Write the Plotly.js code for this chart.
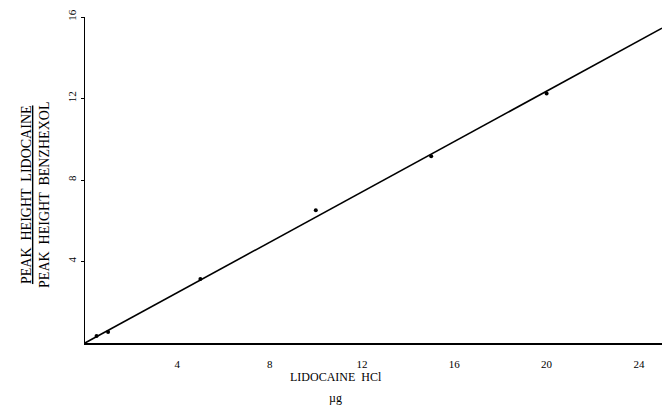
<!DOCTYPE html>
<html>
<head>
<meta charset="utf-8">
<script src="https://cdn.plot.ly/plotly-3.0.1.min.js"></script>
<style>html,body{margin:0;padding:0;background:#fff;}#chart{width:662px;height:411px;}</style>
</head>
<body>
<div id="chart"></div>
<script>
// Lidocaine HCl amount (µg) vs peak height ratio
const amountUg = [0.5, 1, 5, 10, 15, 20];
const peakRatio = [0.34, 0.54, 3.14, 6.52, 9.17, 12.25];
// calibration line end points
const lineX = [0, 25];
const lineY = [0, 15.45];
const xTicks = [4, 8, 12, 16, 20, 24];
const yTicks = [4, 8, 12, 16];

const font = {family: 'Liberation Serif, DejaVu Serif, serif', size: 11, color: '#000'};
const titleFont = {family: 'Liberation Serif, DejaVu Serif, serif', size: 14, color: '#000'};

const traces = [
  {x: lineX, y: lineY, mode: 'lines', line: {color: '#000', width: 1.6}, hoverinfo: 'skip'},
  {x: amountUg, y: peakRatio, mode: 'markers', marker: {color: '#000', size: 4}}
];

const layout = {
  width: 662, height: 411,
  margin: {l: 85, r: 0, t: 17, b: 68},
  paper_bgcolor: '#fff', plot_bgcolor: '#fff',
  showlegend: false,
  font: font,
  xaxis: {
    range: [0, 25], tickvals: xTicks, ticktext: xTicks.map(String),
    showgrid: false, zeroline: false, showline: true, linecolor: '#000', linewidth: 1.5,
    ticks: '', ticklabelstandoff: 10, tickfont: font
  },
  yaxis: {
    range: [0, 16], tickvals: yTicks, ticktext: yTicks.map(String),
    showgrid: false, zeroline: false, showline: true, linecolor: '#000', linewidth: 1.5,
    ticks: 'outside', ticklen: 3, tickcolor: '#000', tickangle: -90, tickfont: font
  },
  annotations: [
    {xref: 'paper', yref: 'paper', x: -0.085, y: 0.454, xanchor: 'center', yanchor: 'middle',
     textangle: -90, showarrow: false, font: titleFont,
     text: '<u>PEAK  HEIGHT  LIDOCAINE</u><br>PEAK  HEIGHT  BENZHEXOL'},
    {xref: 'paper', yref: 'paper', x: 0.435, y: -0.104, xanchor: 'center', yanchor: 'middle',
     showarrow: false, font: {family: titleFont.family, size: 12, color: '#000'}, text: 'LIDOCAINE  HCl'},
    {xref: 'paper', yref: 'paper', x: 0.435, y: -0.169, xanchor: 'center', yanchor: 'middle',
     showarrow: false, font: {family: titleFont.family, size: 12, color: '#000'}, text: 'µg'}
  ]
};

Plotly.newPlot('chart', traces, layout, {displayModeBar: false, staticPlot: true});
</script>
</body>
</html>
